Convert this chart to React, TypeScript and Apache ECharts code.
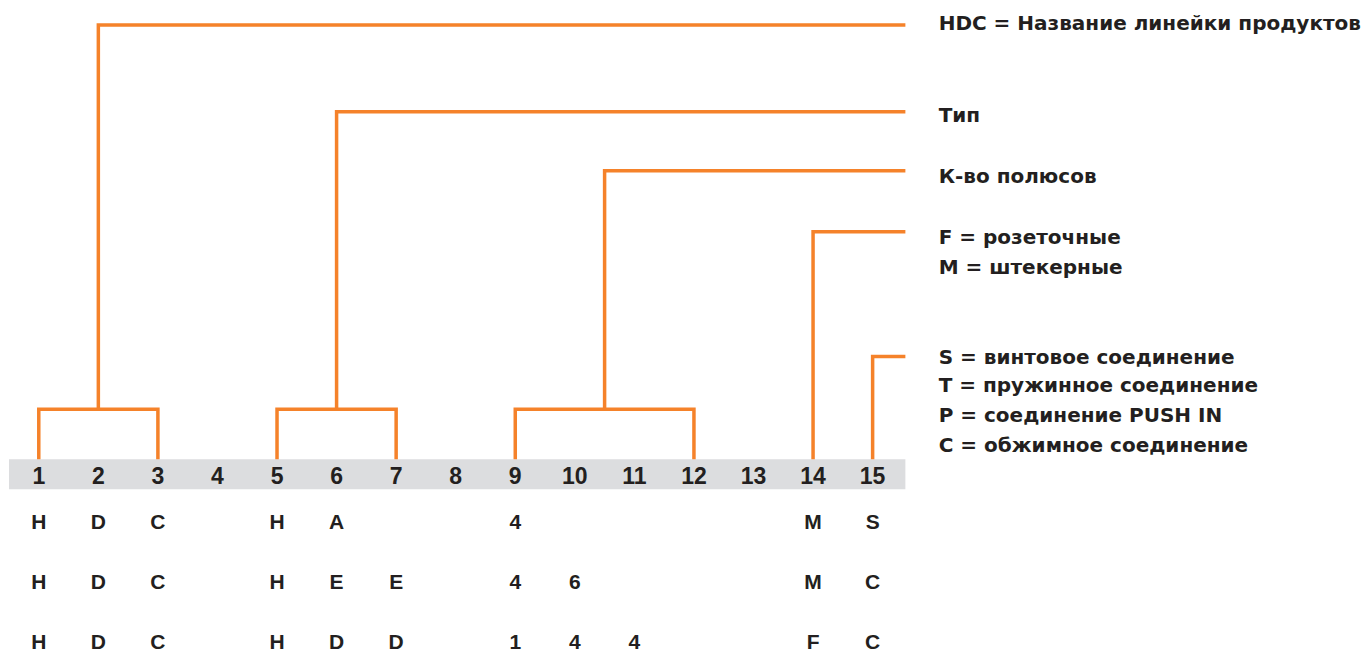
import React, { useEffect, useRef } from "react";
import * as echarts from "echarts";

// Column numbers printed in the grey band
const columnLabels = ["1", "2", "3", "4", "5", "6", "7", "8", "9", "10", "11", "12", "13", "14", "15"];

// Example code rows below the band ("" = empty position)
const codeRow1 = ["H", "D", "C", "", "H", "A", "", "", "4", "", "", "", "", "M", "S"];
const codeRow2 = ["H", "D", "C", "", "H", "E", "E", "", "4", "6", "", "", "", "M", "C"];
const codeRow3 = ["H", "D", "C", "", "H", "D", "D", "", "1", "4", "4", "", "", "F", "C"];
const rowLevels = [-2.08, -4.08, -6.08];

// Brackets: first/last column of each group and height of the leader line
const groupFrom = [1, 5, 9, 14, 15];
const groupTo = [3, 7, 12, 14, 15];
const groupTop = [14.5, 11.6, 9.63, 7.6, 3.43];
const bracketLevel = 1.67;
const leaderEnd = 15.55;

// Legend texts on the right and their levels
const legendTexts = [
  "HDC = Название линейки продуктов",
  "Тип",
  "К-во полюсов",
  "F = розеточные",
  "M = штекерные",
  "S = винтовое соединение",
  "T = пружинное соединение",
  "P = соединение PUSH IN",
  "C = обжимное соединение",
];
const legendLevels = [14.55, 11.5, 9.47, 7.43, 6.43, 3.43, 2.47, 1.47, 0.47];
const legendX = 16.1;

const ORANGE = "#f5822a";
const INK = "#231f20";
const BAND = "#dcdddf";
const NARROW = "'Liberation Sans', Arial, sans-serif";
const WIDE = "'DejaVu Sans', 'Liberation Sans', sans-serif";

export default function App() {
  const ref = useRef<HTMLDivElement>(null);

  useEffect(() => {
    document.body.style.margin = "0";
    if (!ref.current) return;
    const chart = echarts.init(ref.current, undefined, { renderer: "svg" });

    const lineSeries: any[] = [];
    groupFrom.forEach((from, i) => {
      const to = groupTo[i];
      const top = groupTop[i];
      const lineStyle = { color: ORANGE, width: 3.5, cap: "butt", join: "miter", opacity: 1 };
      const base = { type: "line", showSymbol: false, symbol: "none", lineStyle, silent: true, z: 3 };
      if (from !== to) {
        const mid = (from + to) / 2;
        lineSeries.push({ ...base, data: [[from, 0], [from, bracketLevel], [to, bracketLevel], [to, 0]] });
        lineSeries.push({ ...base, data: [[mid, bracketLevel], [mid, top], [leaderEnd, top]] });
      } else {
        lineSeries.push({ ...base, data: [[from, 0], [from, top], [leaderEnd, top]] });
      }
    });

    const digitData = columnLabels.map((t, i) => [i + 1, -0.55, t]);
    const codeData: any[] = [];
    [codeRow1, codeRow2, codeRow3].forEach((row, r) => {
      row.forEach((t, i) => {
        if (t) codeData.push([i + 1, rowLevels[r], t]);
      });
    });
    const legendData = legendTexts.map((t, i) => [legendX, legendLevels[i], t]);

    const textSeries = (data: any[], label: any, extra: any = {}) => ({
      type: "scatter",
      data,
      symbolSize: 1,
      itemStyle: { color: "rgba(0,0,0,0)", opacity: 1 },
      silent: true,
      z: 4,
      label: {
        show: true,
        formatter: (p: any) => p.data[2],
        color: INK,
        opacity: 1,
        fontWeight: "bold",
        ...label,
      },
      ...extra,
    });

    chart.setOption({
      animation: false,
      grid: { left: 9, right: 2, top: 10, height: 645, containLabel: false },
      xAxis: { type: "value", min: 0.5, max: 23.25, show: false },
      yAxis: { type: "value", min: -6.5, max: 15, show: false },
      series: [
        textSeries(
          digitData,
          { position: "inside", fontFamily: NARROW, fontSize: 23 },
          {
            markArea: {
              silent: true,
              itemStyle: { color: BAND, opacity: 1 },
              data: [[{ xAxis: 0.5, yAxis: 0 }, { xAxis: 15.55, yAxis: -1 }]],
            },
          }
        ),
        textSeries(codeData, { position: "inside", fontFamily: NARROW, fontSize: 21 }),
        textSeries(legendData, { position: "right", distance: 0, fontFamily: WIDE, fontSize: 20 }),
        ...lineSeries,
      ],
    });

    return () => chart.dispose();
  }, []);

  return <div ref={ref} style={{ width: 1366, height: 654 }} />;
}
